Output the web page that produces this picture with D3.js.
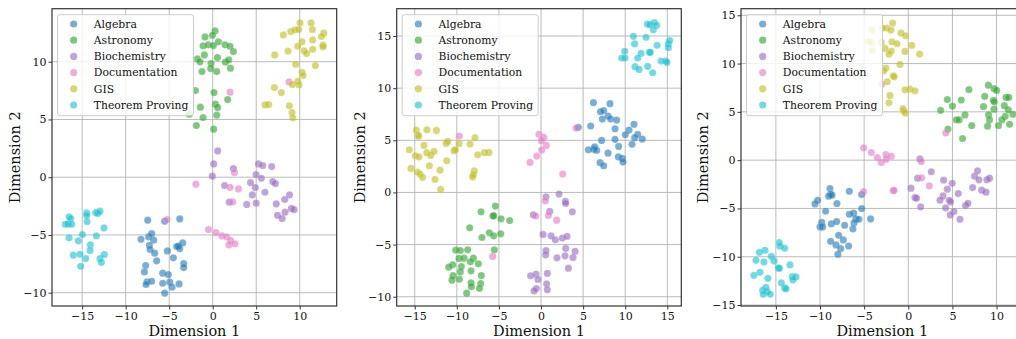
<!DOCTYPE html>
<html>
<head>
<meta charset="utf-8">
<script src="https://cdn.jsdelivr.net/npm/d3@7"></script>
<style>
  body { margin: 0; background: #fff; }
  svg { display: block; }
</style>
</head>
<body>
<div id="chart"></div>
<script>
const categories = ["Algebra", "Astronomy", "Biochemistry", "Documentation", "GIS", "Theorem Proving"];
const colors = ["#1f77b4", "#2ca02c", "#9467bd", "#e377c2", "#bcbd22", "#17becf"];

// panel 1 points, one list per category (same order as categories)
const panel1 = [
  [[-7.47,-3.72],[-5.52,-3.81],[-3.79,-3.61],[-8.24,-5.37],[-7.36,-5.17],[-7.01,-4.88],[-6.78,-5.45],[-7.28,-5.89],[-7.2,-6.26],[-6.67,-6.58],[-5.21,-6.38],[-4.14,-6.0],[-3.79,-6.18],[-3.45,-5.69],[-6.44,-7.24],[-4.52,-6.98],[-7.7,-7.65],[-7.85,-8.2],[-5.75,-8.31],[-5.1,-8.43],[-3.33,-7.47],[-3.33,-7.82],[-7.55,-9.06],[-7.01,-9.01],[-7.66,-9.29],[-5.75,-9.18],[-4.94,-9.09],[-4.67,-9.52],[-3.87,-9.24],[-5.52,-10.04],[-3.95,-5.97]],
  [[0.27,12.67],[-0.88,12.15],[-0.04,12.29],[-1.11,11.37],[-0.5,11.46],[0.08,11.4],[0.65,11.72],[1.42,11.46],[1.99,11.34],[2.38,10.88],[-1.76,10.25],[-1.46,9.99],[-0.96,10.59],[-0.19,9.84],[0.54,10.36],[1.46,9.96],[1.84,10.16],[-0.23,9.41],[-1.23,9.15],[0.46,9.15],[2.03,9.44],[-1.99,7.5],[0.15,7.33],[1.72,6.72],[-1.42,6.06],[0.31,6.32],[0.57,6.03],[-1.11,5.17],[0.46,5.37],[-2.68,5.45],[-1.88,4.47],[0.11,4.16]],
  [[0.57,2.28],[0.11,1.15],[2.38,0.75],[5.25,1.15],[5.75,1.01],[6.78,0.92],[-0.04,0.09],[4.98,0.23],[5.59,-0.09],[6.9,-0.38],[7.2,-0.55],[4.35,-0.47],[4.9,-0.89],[6.0,-1.3],[4.55,-1.53],[1.36,-0.72],[1.9,-2.16],[3.91,-2.36],[5.0,-2.25],[7.3,-2.31],[8.28,-1.93],[8.83,-1.53],[8.31,-3.03],[7.45,-3.3],[7.98,-3.58],[9.04,-2.7],[9.35,-2.81]],
  [[8.77,8.25],[1.99,7.36],[-1.93,-0.6],[2.5,0.4],[2.0,-0.88],[2.96,-1.01],[2.3,-2.14],[-0.48,-4.53],[0.38,-4.79],[1.05,-5.08],[1.61,-5.17],[2.07,-5.48],[1.87,-5.86],[2.56,-5.77],[-5.25,-3.67]],
  [[10.04,13.36],[11.3,13.36],[11.46,12.79],[8.12,12.32],[8.97,12.61],[9.46,12.76],[9.89,12.79],[12.76,12.47],[12.49,12.18],[11.49,11.89],[10.27,11.72],[9.77,11.34],[12.68,11.43],[12.68,11.28],[8.66,10.91],[10.5,10.94],[10.8,10.71],[11.49,11.08],[7.13,10.59],[9.54,9.78],[11.8,9.67],[10.27,9.09],[10.38,8.8],[9.77,8.31],[9.92,7.99],[9.16,8.02],[7.09,7.76],[7.89,7.33],[6.02,6.26],[6.44,6.29],[8.81,6.18],[9.12,5.6],[9.2,5.14]],
  [[-16.51,-3.43],[-16.32,-3.58],[-16.93,-4.07],[-16.63,-4.04],[-16.21,-4.07],[-14.48,-3.09],[-14.48,-3.32],[-14.44,-3.84],[-13.45,-3.06],[-13.22,-3.14],[-12.95,-2.94],[-12.49,-4.39],[-14.98,-4.96],[-16.51,-5.25],[-15.44,-5.51],[-13.37,-5.08],[-14.06,-5.86],[-14.1,-6.35],[-16.02,-6.75],[-15.25,-6.67],[-14.6,-7.04],[-15.17,-7.71],[-12.95,-7.04],[-12.8,-7.39],[-12.45,-6.7]]
];

const panel2 = [
  [[6.22,8.61],[8.19,8.51],[7.05,7.74],[7.44,7.84],[7.96,7.33],[7.28,7.04],[8.27,7.04],[8.99,6.94],[5.9,6.37],[8.79,6.11],[11.04,6.53],[10.45,5.98],[10.01,5.53],[11.48,5.57],[11.12,5.25],[12.03,5.12],[7.2,4.99],[8.79,5.09],[10.81,4.61],[9.22,4.41],[5.62,4.09],[6.25,4.13],[6.37,4.38],[6.61,4.03],[7.96,3.77],[9.18,3.42],[9.66,3.26],[9.74,2.91],[7.01,2.85],[7.44,2.56],[4.43,6.24]],
  [[-5.42,-1.31],[-7.12,-1.86],[-5.7,-2.24],[-5.62,-2.24],[-4.75,-2.53],[-3.72,-2.69],[-8.47,-3.39],[-6.14,-3.87],[-5.62,-4.16],[-4.79,-3.97],[-7.01,-4.32],[-10.13,-5.53],[-9.58,-5.57],[-8.71,-5.5],[-5.54,-5.5],[-9.74,-6.33],[-9.14,-6.3],[-8.03,-6.3],[-8.39,-6.65],[-7.44,-6.85],[-10.49,-6.94],[-10.96,-7.17],[-9.46,-7.1],[-8.31,-7.52],[-9.58,-7.61],[-7.09,-7.97],[-10.45,-7.97],[-10.57,-8.41],[-9.7,-8.32],[-8.31,-8.67],[-7.16,-8.73],[-8.27,-9.05],[-7.32,-9.21],[-8.83,-9.66]],
  [[0.59,-0.42],[2.14,-0.16],[2.89,-0.86],[2.93,-1.06],[3.72,-1.86],[-0.91,-2.14],[1.03,-1.82],[0.24,-4.03],[1.19,-4.16],[1.7,-4.54],[2.53,-4.38],[3.09,-4.22],[0.59,-5.57],[0.55,-5.98],[2.93,-5.37],[4.04,-5.66],[1.9,-6.27],[2.85,-6.08],[3.8,-6.24],[3.25,-7.26],[-1.23,-8.0],[-0.59,-7.84],[0.75,-7.77],[-0.36,-8.35],[0.67,-8.77],[-0.55,-9.21],[-0.83,-9.44],[0.75,-9.34]],
  [[-1.31,2.88],[-0.51,3.49],[-0.24,5.57],[0.32,5.28],[0.04,4.96],[0.63,4.51],[0.08,4.06],[-9.7,5.41],[4.16,6.17],[2.57,1.76],[0.51,-0.83],[-0.63,-2.27],[0.87,-2.21],[1.86,-2.66],[-5.74,-6.14]],
  [[-15.64,4.09],[-14.57,5.47],[-14.55,5.4],[-14.81,5.98],[-13.54,6.01],[-12.43,5.95],[-13.9,4.51],[-14.93,3.52],[-14.49,3.42],[-13.58,3.81],[-13.1,3.55],[-12.71,3.93],[-11.28,4.7],[-11.08,4.89],[-10.33,4.0],[-10.17,4.09],[-9.74,4.7],[-8.43,4.64],[-7.84,5.25],[-7.52,3.61],[-6.73,3.81],[-6.18,3.84],[-15.44,2.3],[-13.26,2.56],[-11.99,2.14],[-11.2,3.04],[-7.92,2.06],[-14.69,1.95],[-14.37,1.76],[-14.06,1.44],[-12.59,1.25],[-11.92,0.29],[-8.04,1.7],[-8.12,1.47]],
  [[12.63,16.15],[12.94,16.09],[13.46,16.28],[13.74,16.03],[13.34,15.61],[10.97,14.97],[12.47,14.88],[11.12,14.24],[11.88,13.34],[12.87,13.44],[12.98,13.44],[13.78,14.11],[15.12,14.24],[15.28,14.56],[15.12,13.88],[9.94,13.53],[9.58,12.89],[9.98,12.89],[11.48,12.89],[11.16,12.06],[11.64,11.8],[13.26,11.48],[12.67,12.09],[14.25,12.6],[14.81,12.6],[14.96,12.48]]
];

const panel3 = [
  [[-8.87,-2.94],[-8.8,-3.53],[-9.02,-3.73],[-8.64,-3.63],[-10.27,-4.15],[-10.57,-4.53],[-8.08,-4.49],[-6.68,-3.22],[-5.28,-3.56],[-9.36,-5.29],[-5.28,-5.01],[-6.68,-5.6],[-6.19,-5.49],[-9.81,-6.43],[-10.0,-6.91],[-9.7,-6.91],[-8.72,-6.6],[-8.12,-6.36],[-5.93,-6.08],[-5.59,-6.12],[-4.27,-6.08],[-6.15,-6.5],[-6.27,-7.12],[-7.21,-6.74],[-7.89,-7.78],[-7.36,-8.26],[-8.8,-8.4],[-8.19,-8.78],[-7.66,-9.16],[-6.76,-8.89],[-7.97,-9.74]],
  [[9.07,7.76],[9.72,7.4],[10.01,7.22],[6.87,7.3],[8.66,6.6],[9.63,6.2],[9.74,6.04],[11.07,6.49],[11.38,6.49],[10.88,5.64],[4.42,6.28],[6.0,6.23],[5.0,5.6],[3.66,5.16],[8.52,5.54],[9.7,5.28],[11.33,5.21],[11.84,4.74],[6.42,4.68],[9.1,4.69],[5.44,4.18],[5.77,4.18],[10.98,4.54],[10.6,4.18],[9.2,4.16],[7.19,3.57],[8.98,3.52],[10.22,3.59],[4.49,3.22],[6.15,2.24],[11.48,3.71]],
  [[1.32,0.13],[2.6,-1.2],[0.3,-2.9],[0.75,-3.87],[0.94,-3.94],[1.4,-4.84],[1.06,-1.87],[4.0,-2.07],[4.42,-3.01],[4.98,-2.39],[5.66,-3.46],[3.93,-3.7],[3.59,-4.15],[4.64,-4.15],[4.79,-4.32],[4.23,-4.94],[5.17,-5.32],[4.76,-5.67],[5.85,-6.12],[6.49,-4.7],[6.76,-4.46],[7.29,-2.84],[7.51,-1.66],[7.85,-1.1],[8.0,-2.04],[8.31,-3.11],[8.8,-3.32],[8.9,-2.04],[9.21,-1.87]],
  [[-5.06,1.27],[-4.19,0.79],[-3.51,0.27],[-3.06,-0.24],[-2.53,0.58],[-2.49,0.1],[-1.93,0.41],[-3.02,7.87],[4.25,2.8],[1.47,-0.14],[1.51,-1.83],[2.38,-2.66],[-1.7,-3.15],[-1.62,-3.12],[-5.06,-3.25]],
  [[-1.77,14.19],[-2.45,13.68],[-2.94,13.68],[-1.96,13.47],[-4.08,13.47],[-0.83,13.16],[-0.3,12.88],[-4.53,12.29],[-4.15,12.16],[-3.06,12.19],[-1.85,12.26],[-1.28,12.05],[-2.64,11.57],[-1.92,11.29],[-2.19,10.98],[-0.38,11.26],[0.38,11.88],[-4.04,11.33],[1.28,10.98],[-0.94,9.91],[-2.53,9.53],[-2.76,9.25],[-1.7,8.73],[-1.59,8.63],[-2.38,8.11],[0.19,7.35],[-0.38,7.28],[0.76,7.18],[-2.08,6.7],[-2.19,5.94],[-0.6,5.35],[-0.53,5.11],[-0.34,4.87]],
  [[-14.61,-8.53],[-14.53,-8.91],[-14.0,-9.12],[-16.23,-9.33],[-16.87,-9.54],[-17.25,-10.37],[-15.52,-9.95],[-15.21,-10.43],[-16.35,-10.54],[-14.72,-11.16],[-14.6,-11.2],[-13.4,-10.85],[-16.8,-11.61],[-17.49,-11.92],[-15.9,-12.23],[-14.38,-12.71],[-13.14,-12.06],[-12.72,-12.09],[-13.06,-12.4],[-14.0,-13.23],[-13.85,-13.33],[-16.12,-13.16],[-16.5,-13.47],[-15.97,-13.61],[-16.42,-13.89],[-15.63,-13.89]]
];

const xTicks1 = [-15, -10, -5, 0, 5, 10];
const yTicks1 = [-10, -5, 0, 5, 10];
const xTicks2 = [-15, -10, -5, 0, 5, 10, 15];
const yTicks2 = [-10, -5, 0, 5, 10, 15];
const xTicks3 = [-15, -10, -5, 0, 5, 10];
const yTicks3 = [-15, -10, -5, 0, 5, 10, 15];

const width = 1016, height = 339;
const plotTop = 8.7, plotBottom = 306;

const panels = [
  { data: panel1, left: 52, right: 336.7, xDomain: [-18.47, 14.25], yDomain: [-11.15, 14.59], xTicks: xTicks1, yTicks: yTicks1, yLabelX: 15 },
  { data: panel2, left: 396.7, right: 681.3, xDomain: [-17.14, 16.66], yDomain: [-10.89, 17.62], xTicks: xTicks2, yTicks: yTicks2, yLabelX: 359.5 },
  { data: panel3, left: 741, right: 1025.7, xDomain: [-18.95, 13.3], yDomain: [-15.1, 15.68], xTicks: xTicks3, yTicks: yTicks3, yLabelX: 703 }
];

const fmt = d => (d < 0 ? "\u2212" + Math.abs(d) : String(d));
const serif = "'DejaVu Serif', serif";

const svg = d3.select("#chart").append("svg")
  .attr("width", width)
  .attr("height", height)
  .style("font-family", serif);

panels.forEach((p, pi) => {
  const x = d3.scaleLinear().domain(p.xDomain).range([p.left, p.right]);
  const y = d3.scaleLinear().domain(p.yDomain).range([plotBottom, plotTop]);
  const g = svg.append("g");

  const clipId = "clip" + pi;
  svg.append("clipPath").attr("id", clipId)
    .append("rect")
    .attr("x", p.left).attr("y", plotTop)
    .attr("width", p.right - p.left).attr("height", plotBottom - plotTop);

  // grid
  g.append("g").selectAll("line").data(p.xTicks).join("line")
    .attr("x1", d => x(d)).attr("x2", d => x(d))
    .attr("y1", plotTop).attr("y2", plotBottom)
    .attr("stroke", "#b0b0b0").attr("stroke-width", 1).attr("opacity", 0.85);
  g.append("g").selectAll("line").data(p.yTicks).join("line")
    .attr("x1", p.left).attr("x2", p.right)
    .attr("y1", d => y(d)).attr("y2", d => y(d))
    .attr("stroke", "#b0b0b0").attr("stroke-width", 1).attr("opacity", 0.85);

  // points
  const pts = g.append("g").attr("clip-path", `url(#${clipId})`);
  p.data.forEach((series, ci) => {
    pts.append("g").selectAll("circle").data(series).join("circle")
      .attr("cx", d => x(d[0]))
      .attr("cy", d => y(d[1]))
      .attr("r", 3.6)
      .attr("fill", colors[ci])
      .attr("fill-opacity", 0.6)
      .attr("stroke", "#fff")
      .attr("stroke-opacity", 0.3)
      .attr("stroke-width", 0.5);
  });

  // axes
  const xAxis = g.append("g")
    .attr("transform", `translate(0,${plotBottom})`)
    .call(d3.axisBottom(x).tickValues(p.xTicks).tickFormat(fmt).tickSize(3.5).tickPadding(3));
  const yAxis = g.append("g")
    .attr("transform", `translate(${p.left},0)`)
    .call(d3.axisLeft(y).tickValues(p.yTicks).tickFormat(fmt).tickSize(3.5).tickPadding(2));
  [xAxis, yAxis].forEach(a => {
    a.select(".domain").remove();
    a.selectAll("text").style("font-family", serif).style("font-size", "11px").attr("fill", "#111");
    a.selectAll("line").attr("stroke", "#222").attr("stroke-width", 0.9);
  });

  // frame
  g.append("rect")
    .attr("x", p.left).attr("y", plotTop)
    .attr("width", p.right - p.left).attr("height", plotBottom - plotTop)
    .attr("fill", "none").attr("stroke", "#333").attr("stroke-width", 1.2);

  // labels
  g.append("text")
    .attr("x", (p.left + p.right) / 2 + (pi === 2 ? -1 : 0))
    .attr("y", 336)
    .attr("text-anchor", "middle")
    .style("font-size", "14.5px")
    .attr("fill", "#111")
    .text("Dimension 1");
  g.append("text")
    .attr("transform", `translate(${p.yLabelX},${(plotTop + plotBottom) / 2}) rotate(-90)`)
    .attr("text-anchor", "middle")
    .attr("dy", "0.35em")
    .style("font-size", "14.5px")
    .attr("fill", "#111")
    .text("Dimension 2");

  // legend
  const lx = p.left + 5.5, ly = 14.7;
  const leg = g.append("g").attr("transform", `translate(${lx},${ly})`);
  leg.append("rect")
    .attr("width", 136).attr("height", 101)
    .attr("rx", 2.5)
    .attr("fill", "#fff").attr("fill-opacity", 0.8)
    .attr("stroke", "#cccccc").attr("stroke-width", 1);
  const rows = leg.selectAll("g.row").data(categories).join("g")
    .attr("class", "row")
    .attr("transform", (d, i) => `translate(0,${9.3 + i * 16.2})`);
  rows.append("circle")
    .attr("cx", 16.2).attr("cy", 0).attr("r", 3.6)
    .attr("fill", (d, i) => colors[i]).attr("fill-opacity", 0.6);
  rows.append("text")
    .attr("x", 36.3).attr("y", 0).attr("dy", "0.35em")
    .style("font-size", "10.8px")
    .attr("fill", "#111")
    .text(d => d);
});
</script>
</body>
</html>
